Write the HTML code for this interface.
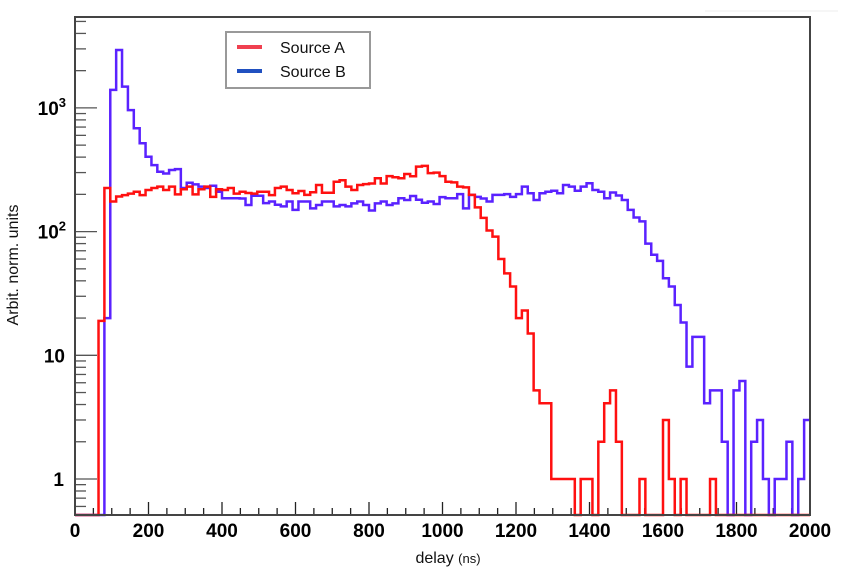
<!DOCTYPE html>
<html><head><meta charset="utf-8"><style>
html,body{margin:0;padding:0;background:#fff;}
svg{display:block;font-family:"Liberation Sans",sans-serif;}
</style></head><body>
<svg id="chart" width="847" height="578" viewBox="0 0 847 578" xmlns="http://www.w3.org/2000/svg">
<rect x="0" y="0" width="847" height="578" fill="#fff"/>
<line x1="705" y1="11" x2="838" y2="11" stroke="#eee" stroke-width="1"/>
<g id="ticks"></g>
<g id="series"></g>
<rect x="75" y="17" width="735" height="498" fill="none" stroke="#444" stroke-width="2"/>
<g id="labels"></g>
<text x="18" y="265" transform="rotate(-90 18 265)" text-anchor="middle" font-size="16" fill="#111">Arbit. norm. units</text>
<text x="448" y="563" text-anchor="middle" font-size="16" fill="#111">delay <tspan font-size="13">(ns)</tspan></text>
<g>
<rect x="226" y="32" width="144" height="56" fill="#fff" stroke="#999" stroke-width="2"/>
<line x1="237" y1="47" x2="262" y2="47" stroke="#f04050" stroke-width="4"/>
<text x="280" y="53" font-size="16" fill="#111">Source A</text>
<line x1="237" y1="71" x2="262" y2="71" stroke="#2050c0" stroke-width="4"/>
<text x="280" y="77" font-size="16" fill="#111">Source B</text>
</g>
</svg>
<script>
const binWidth = 16;
const xTickLabels = ["0","200","400","600","800","1000","1200","1400","1600","1800","2000"];
const yDecades = [0,1,2,3];
const sourceA = [0,0,0,0,19,225,175,192,197,203,210,197,217,225,231,217,231,200,220,231,200,220,231,191,220,217,225,203,210,205,203,210,210,197,225,231,217,204,213,198,208,238,206,206,253,260,231,217,238,242,245,270,245,281,275,270,292,280,335,340,297,300,281,253,250,231,228,198,157,129,102,91,60,46,36,20,23,15,5.2,4.1,4.1,1,1,1,1,0,1,1,0,2,4.1,5.2,2,0,0,0,1,0,0,0,3,1,0,1,0,0,0,0,1,0,0,0,0,0,0,0,0,0,0,0,0,0,0,0,0];
const sourceB = [0,0,0,0,0,20,1400,2940,1485,960,685,518,403,345,305,295,315,320,225,248,241,231,225,235,210,186,186,186,185,164,195,195,170,175,165,160,175,150,175,175,154,164,175,175,160,164,160,169,175,164,148,169,175,164,169,186,180,194,181,171,175,167,190,186,186,201,154,198,191,185,175,198,198,201,191,201,231,204,180,204,210,214,204,238,231,214,231,246,217,210,186,207,196,180,150,130,121,80,65,58,42,36,25.5,18.4,8.1,14.1,14.1,4.1,5.2,5.2,2,0,5.2,6.2,0,2,3,1,0,1,1,2,0,1,3];

const NS='http://www.w3.org/2000/svg';
const X0=75,X1=810,Y1=479,DEC=123.7,YFLOOR=515,XMAX=2000;
function xs(v){return X0+(v/XMAX)*(X1-X0);}
function ys(v){if(v<=0)return YFLOOR;const y=Y1-Math.log10(v)*DEC;return Math.min(y,YFLOOR);}
function mk(tag,attrs,parent){const e=document.createElementNS(NS,tag);for(const k in attrs)e.setAttribute(k,attrs[k]);parent.appendChild(e);return e;}

const ticks=document.getElementById('ticks');
const labels=document.getElementById('labels');
for(let v=0;v<=XMAX;v+=50){
  const major=v%200===0;
  const t=mk('line',{x1:xs(v),x2:xs(v),y1:YFLOOR,y2:YFLOOR-(major?13:7),stroke:'#222','stroke-width':1.3},ticks);
  
  
}
xTickLabels.forEach((s,i)=>{
  const t=mk('text',{x:xs(i*200),y:537,'text-anchor':'middle','font-size':19,'font-weight':'bold',fill:'#000'},labels);
  t.textContent=s;
  
  
});
for(let d=-1;d<=3;d++){
  for(let m=1;m<=9;m++){
    const v=m*Math.pow(10,d);
    const y=Y1-Math.log10(v)*DEC;
    if(y<17||y>YFLOOR)continue;
    const t=mk('line',{x1:X0,x2:X0+(m===1?22:11),y1:y,y2:y,stroke:'#555','stroke-width':1.3},ticks);
    
    
  }
}
yDecades.forEach(d=>{
  const y=Y1-d*DEC;
  const t=mk('text',{x:d===0?64:(d===1?65:66),y:y+7,'text-anchor':'end','font-size':19,'font-weight':'bold',fill:'#000'},labels);
  t.textContent=d===0?'1':'10';
  if(d>=2){const sup=document.createElementNS(NS,'tspan');sup.setAttribute('dy','-8');sup.setAttribute('font-size','13');sup.textContent=String(d);t.appendChild(sup);}
  
  
});
function stepPath(vals){
  let d='M'+xs(0)+','+ys(vals[0]);
  vals.forEach((v,i)=>{
    const y=ys(v);
    d+=' L'+xs(i*binWidth)+','+y+' L'+xs((i+1)*binWidth)+','+y;
  });
  return d;
}
const series=document.getElementById('series');
const pb=mk('path',{d:stepPath(sourceB),fill:'none',stroke:'#5a22ff','stroke-width':2.5,'stroke-linejoin':'miter'},series);


const pa=mk('path',{d:stepPath(sourceA),fill:'none',stroke:'#ff1010','stroke-width':2.5,'stroke-linejoin':'miter'},series);


</script>
</body></html>
